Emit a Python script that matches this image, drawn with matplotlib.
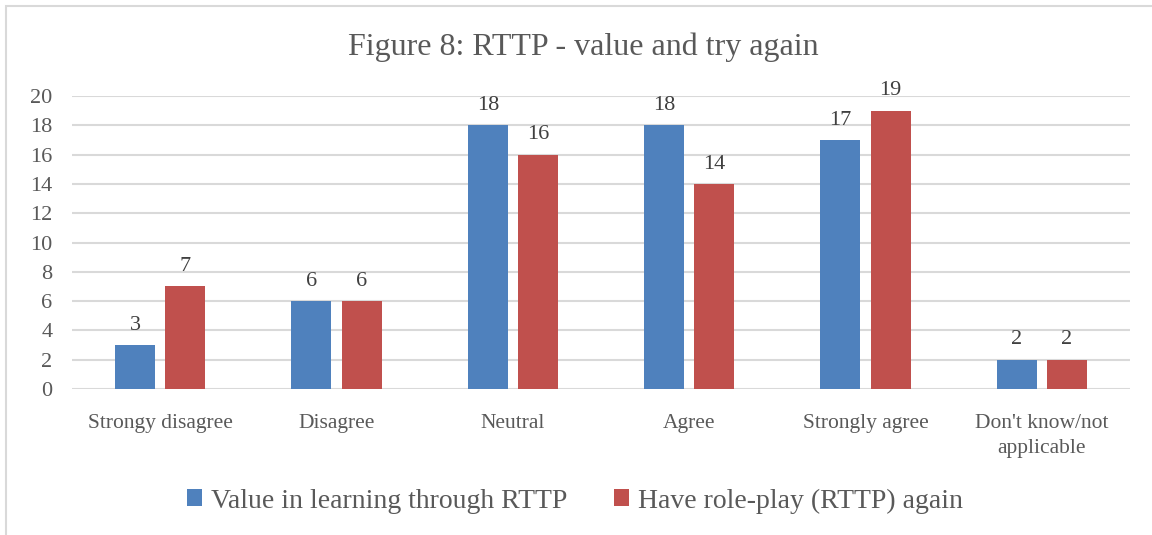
import matplotlib.pyplot as plt
import numpy as np
from matplotlib.patches import Rectangle

categories = ["Strongy disagree", "Disagree", "Neutral", "Agree",
              "Strongly agree", "Don't know/not\napplicable"]
value_learning = [3, 6, 18, 18, 17, 2]
play_again = [7, 6, 16, 14, 19, 2]
series_names = ["Value in learning through RTTP", "Have role-play (RTTP) again"]
yticks = list(range(0, 21, 2))

blue = "#4F81BD"
red = "#C0504D"
txt = "#595959"
grid = "#D9D9D9"

plt.rcParams['font.family'] = ['Liberation Serif', 'DejaVu Serif']

fig = plt.figure(figsize=(11.52, 5.35), dpi=100)
# chart frame (top and left edges only visible)
fig.patches.append(Rectangle((6/1152, -0.1), 1.2, (535 - 6) / 535 + 0.1,
                             transform=fig.transFigure, fill=False,
                             edgecolor=grid, linewidth=1.5))

ax = fig.add_axes([72/1152, 1 - 389/535, (1130-72)/1152, (389-96)/535])
x = np.arange(len(categories))
w = 0.227
off = 0.142
b1 = ax.bar(x - off, value_learning, w, color=blue, label=series_names[0], zorder=3)
b2 = ax.bar(x + off, play_again, w, color=red, label=series_names[1], zorder=3)

for bars, vals in ((b1, value_learning), (b2, play_again)):
    for r, v in zip(bars, vals):
        ax.text(r.get_x() + r.get_width()/2, v + 0.7, str(v), ha='center',
                va='bottom', fontsize=16, color='#404040')

ax.set_xlim(-0.5, len(categories) - 0.5)
ax.set_ylim(0, 20)
ax.set_yticks(yticks)
ax.set_xticks(x)
ax.set_xticklabels(categories, fontsize=15.5, color=txt, linespacing=1.45)
ax.tick_params(axis='y', labelsize=16, labelcolor=txt, length=0, pad=14)
ax.tick_params(axis='x', length=0, pad=18)
ax.grid(axis='y', color=grid, linewidth=1.5, zorder=0)
for s in ax.spines.values():
    s.set_visible(False)

fig.text(0.5065, 1 - 47/535, "Figure 8: RTTP - value and try again", ha='center',
         va='center', fontsize=23, color=txt)

fig.legend(handles=[b1, b2], loc='center', bbox_to_anchor=(0.499, 1 - 501/535),
           ncol=2, frameon=False, fontsize=20, handlelength=0.55, handleheight=0.55,
           handletextpad=0.3, columnspacing=1.7, labelcolor=txt)

fig.savefig("out.png", dpi=100)
